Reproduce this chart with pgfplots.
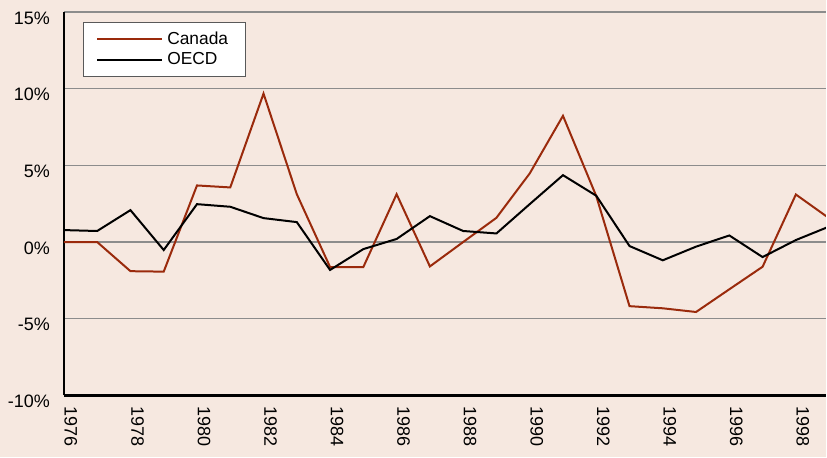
\documentclass[border=0pt]{standalone}
\usepackage{pgfplots}
\pgfplotsset{compat=1.18}
\usepackage{fontspec}
\setmainfont{Liberation Sans}

\definecolor{bgpink}{HTML}{F6E8E0}
\definecolor{canred}{HTML}{9A2A0C}
\definecolor{gridgray}{HTML}{8C8C8C}

\begin{document}
\begin{tikzpicture}
% background of the whole picture (827 x 458 px at 0.5pt/px)
\fill[bgpink] (0,0) rectangle (413.5pt,229pt);

\begin{axis}[
    at={(32pt,31pt)}, anchor=south west,
    scale only axis,
    width=381.5pt, height=192pt,
    xmin=1976, xmax=1998.9,
    ymin=-10, ymax=15,
    axis lines=left,
    axis line style={-, line width=1.2pt, black},
    ytick={-10,-5,0,5,10,15},
    yticklabels={-10\%,-5\%,0\%,5\%,10\%,15\%},
    xtick={1976,1978,...,1998},
    xticklabels={1976,1978,1980,1982,1984,1986,1988,1990,1992,1994,1996,1998},
    major tick length=0pt,
    ymajorgrids,
    grid style={gridgray, line width=0.6pt},
    tick label style={font=\fontsize{9}{11}\selectfont},
    yticklabel style={anchor=east, xshift=-3.5pt, yshift=-3pt},
    xticklabel style={xshift=3.5pt, yshift=-2pt, rotate=-90, anchor=west},
    legend style={
        at={(axis description cs:0.0249,0.974)}, anchor=north west,
        draw=gray!70!black, fill=white, line width=0.5pt,
        font=\fontsize{8.7}{10.5}\selectfont,
        inner xsep=6.5pt, inner ysep=2.5pt,
        row sep=-1.5pt,
    },
    legend cell align=left,
    legend image code/.code={\draw[#1] (0pt,0pt) -- (32.5pt,0pt);},
]

\addplot[canred, line width=1pt] coordinates {
    (1976,0.0) (1977,0.0) (1978,-1.9) (1979,-1.93) (1980,3.69)
    (1981,3.56) (1982,9.68) (1983,3.12) (1984,-1.63) (1985,-1.63)
    (1986,3.12) (1987,-1.59) (1988,0.0) (1989,1.58) (1990,4.47)
    (1991,8.23) (1992,3.0) (1993,-4.18) (1994,-4.32) (1995,-4.56)
    (1996,-3.08) (1997,-1.61) (1998,3.10) (1999,1.55)
};
\addlegendentry{Canada\hspace{1pt}}

\addplot[black, line width=1pt] coordinates {
    (1976,0.78) (1977,0.72) (1978,2.08) (1979,-0.52) (1980,2.47)
    (1981,2.30) (1982,1.56) (1983,1.30) (1984,-1.82) (1985,-0.46)
    (1986,0.20) (1987,1.69) (1988,0.72) (1989,0.56) (1990,2.47)
    (1991,4.36) (1992,3.02) (1993,-0.26) (1994,-1.19) (1995,-0.30)
    (1996,0.43) (1997,-0.98) (1998,0.13) (1999,1.01)
};
\addlegendentry{OECD}

\end{axis}
\end{tikzpicture}
\end{document}
